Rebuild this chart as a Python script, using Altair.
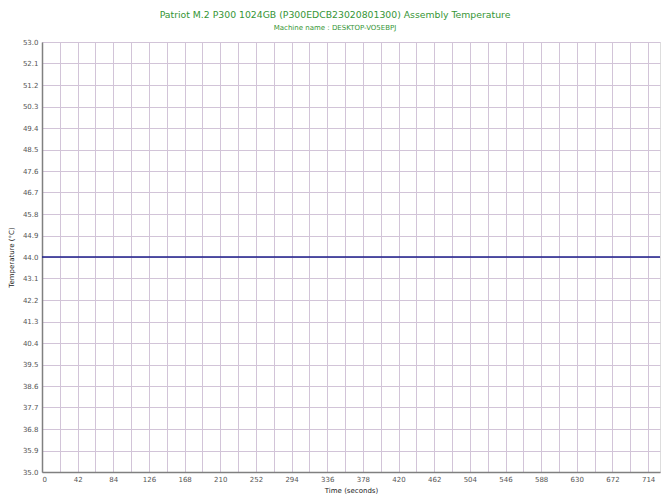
import altair as alt
import pandas as pd

# data
time_s = [0, 120, 240, 360, 480, 600, 728]
temp_c = [44.0, 44.0, 44.0, 44.0, 44.0, 44.0, 44.0]
y_ticks = [35.0, 35.9, 36.8, 37.7, 38.6, 39.5, 40.4, 41.3, 42.2, 43.1, 44.0,
           44.9, 45.8, 46.7, 47.6, 48.5, 49.4, 50.3, 51.2, 52.1, 53.0]
x_ticks = [0, 21, 42, 63, 84, 105, 126, 147, 168, 189, 210, 231, 252, 273, 294,
           315, 336, 357, 378, 399, 420, 441, 462, 483, 504, 525, 546, 567, 588,
           609, 630, 651, 672, 693, 714]

df = pd.DataFrame({"t": time_s, "temp": temp_c})

grid_col = "#d2c4d8"

chart = alt.Chart(df).mark_line(color="#1c1c8a", strokeWidth=1.5).encode(
    x=alt.X("t:Q", title="Time (seconds)",
            scale=alt.Scale(domain=[0, 728], nice=False, zero=False),
            axis=alt.Axis(values=x_ticks,
                          labelExpr="datum.value % 42 == 0 ? datum.label : ''",
                          ticks=False, labelPadding=3, titlePadding=4,
                          labelFontSize=7, titleFontSize=7,
                          labelColor="#555555", titleColor="#222222",
                          labelFont="DejaVu Sans", titleFont="DejaVu Sans",
                          titleFontWeight="normal",
                          gridColor=grid_col, gridOpacity=1, gridWidth=1,
                          domainColor="#808080", domainWidth=1.5)),
    y=alt.Y("temp:Q", title="Temperature (°C)",
            scale=alt.Scale(domain=[35.0, 53.0], nice=False, zero=False),
            axis=alt.Axis(values=y_ticks, format=".1f", ticks=False,
                          labelPadding=4, titlePadding=8,
                          labelFontSize=7, titleFontSize=7,
                          labelColor="#555555", titleColor="#222222",
                          labelFont="DejaVu Sans", titleFont="DejaVu Sans",
                          titleFontWeight="normal",
                          gridColor=grid_col, gridOpacity=1, gridWidth=1,
                          domainColor="#808080", domainWidth=1.5)),
).properties(
    width=618,
    height=430,
    padding={"left": 34, "top": 34, "right": 2, "bottom": 23},
    autosize=alt.AutoSizeParams(type="none"),
    title=alt.TitleParams(
        text="Patriot M.2 P300 1024GB (P300EDCB23020801300) Assembly Temperature",
        subtitle="Machine name : DESKTOP-VO5EBPJ",
        anchor="middle", dx=-16, offset=7,
        font="DejaVu Sans", fontSize=9.3, fontWeight="normal", color="#359535",
        subtitleFont="DejaVu Sans", subtitleFontSize=7, subtitleColor="#359535",
        subtitlePadding=4,
    ),
).configure_view(
    fill="#f7eafd", stroke="#8a8a8a", strokeWidth=1.2
).configure(background="white")

chart.save("out.html", embed_options={"renderer": "svg", "actions": False})
